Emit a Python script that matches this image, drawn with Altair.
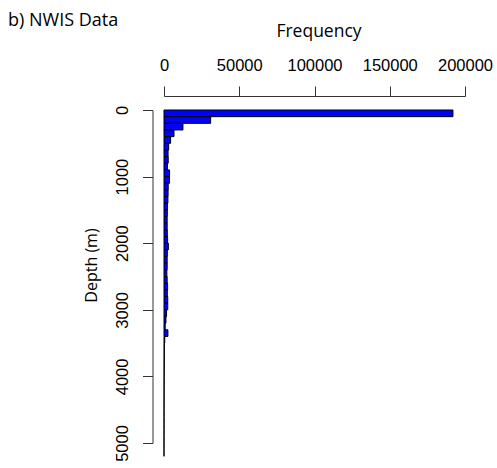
import altair as alt
import pandas as pd

# Histogram of well depths (100 m bins) - NWIS data
bin_start = list(range(0, 5200, 100))
counts = [
    192000, 31000, 12600, 6650, 4400, 3100, 2700, 2800, 2300, 3700,
    3700, 2800, 2700, 2600, 2300, 2200, 2100, 2100, 2200, 2400,
    2900, 2200, 2100, 2100, 1900, 2100, 2400, 2200, 2500, 2500,
    1700, 1300, 800, 2600, 500, 300, 250, 200, 180, 150,
    120, 100, 90, 80, 60, 50, 40, 30, 25, 20,
    15, 10,
]
x_ticks = [0, 50000, 100000, 150000, 200000]
y_ticks = [0, 1000, 2000, 3000, 4000, 5000]

df = pd.DataFrame({
    "start": bin_start,
    "end": [b + 100 for b in bin_start],
    "count": counts,
})

LABEL_FONT = "Liberation Sans"
TITLE_FONT = "Open Sans"

chart = alt.Chart(df).mark_bar(
    fill="#0000FF", stroke="#000000", strokeWidth=1
).encode(
    x=alt.X(
        "count:Q",
        scale=alt.Scale(domain=[0, 200000], nice=False, zero=True),
        axis=alt.Axis(
            orient="top", values=x_ticks, format="d", grid=False,
            offset=14, tickSize=10, labelPadding=16, labelFlush=False,
            labelBaseline="alphabetic", labelFont=LABEL_FONT, labelFontSize=16.5,
            labelColor="#000", domainColor="#333", tickColor="#333",
            title="Frequency", titleFont=TITLE_FONT, titleFontSize=17.5,
            titleFontWeight="normal", titleColor="#000",
            titleX=154.5, titleY=-60, titleAlign="center", titleBaseline="alphabetic",
        ),
    ),
    x2=alt.value(0),
    y=alt.Y(
        "start:Q",
        scale=alt.Scale(domain=[0, 5000], reverse=True, nice=False),
        axis=alt.Axis(
            orient="left", values=y_ticks, format="d", grid=False,
            offset=11.5, tickSize=10, labelPadding=15, labelAngle=270,
            labelAlign="center", labelBaseline="alphabetic",
            labelFont=LABEL_FONT, labelFontSize=16.5, labelColor="#000",
            domainColor="#333", tickColor="#333",
            title="Depth (m)", titleFont=TITLE_FONT, titleFontSize=16,
            titleFontWeight="normal", titleColor="#000", titleAngle=270,
            titleX=-56, titleY=155, titleAlign="center", titleBaseline="alphabetic",
        ),
    ),
    y2="end:Q",
).properties(
    width=301,
    height=333,
    title=alt.TitleParams(
        text="b) NWIS Data", anchor="start", frame="group", font=TITLE_FONT,
        fontSize=18, fontWeight="normal", color="#000", baseline="alphabetic",
        offset=0, dx=-156, dy=22,
    ),
).configure_view(
    stroke=None
).properties(
    autosize=alt.AutoSizeParams(type="none"),
    padding={"left": 164, "top": 110, "right": 32, "bottom": 25},
    background="white",
)

chart.save("out.html", embed_options={"renderer": "svg", "actions": False})
